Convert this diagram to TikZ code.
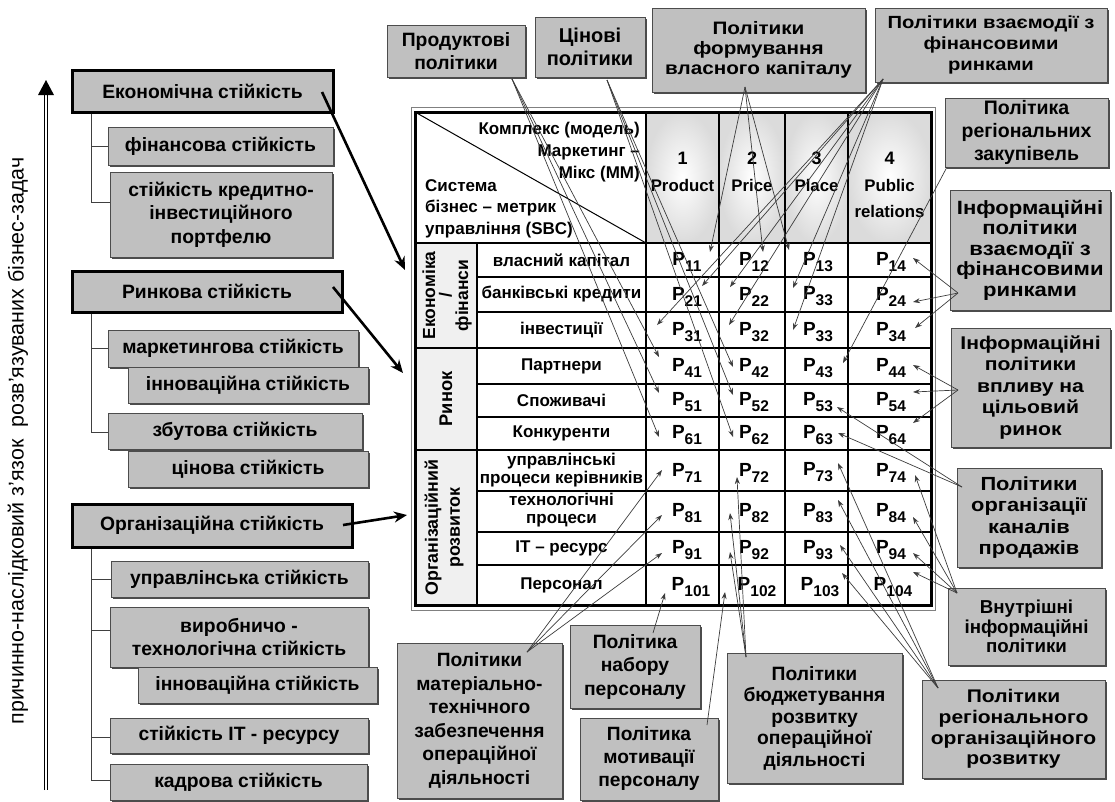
\documentclass[tikz,border=0pt]{standalone}
\usepackage{fontspec}
\setmainfont{Liberation Sans}
\newfontfamily\wfont{Liberation Sans}[FakeStretch=1.15]
\usetikzlibrary{shadows,arrows.meta}
\definecolor{boxgray}{RGB}{192,192,192}
\definecolor{lgray}{RGB}{60,60,60}
\newcommand\Pc[1]{{\fontsize{19}{19}\selectfont P}\raisebox{-6pt}{\fontsize{15.5}{15.5}\selectfont #1}}
\begin{document}
\begin{tikzpicture}[x=1pt,y=-1pt,
 fs/.style 2 args={font=\fontsize{#1}{#2}\selectfont\bfseries},
 ws/.style 2 args={font=\wfont\fontsize{#1}{#2}\selectfont\bfseries},
 gb/.style={draw=gray!60!black, line width=0.7pt, fill=boxgray, align=center, inner sep=0pt,
   drop shadow={shadow xshift=2.2pt, shadow yshift=-2.2pt, fill=gray!45!black, opacity=0.9},
   fs={19.3}{21.5}},
 lb/.style={gb, fs={19.3}{23.5}},
 tb/.style={lb, draw=black, line width=3pt},
 tt/.style={fs={17}{18}, align=center, inner sep=0pt},
 pc/.style={inner sep=0pt, font=\bfseries},
 pa/.style={draw=lgray, line width=0.7pt, -{Stealth[length=7pt,width=5pt]}},
 ta/.style={draw=black, line width=2.6pt, -{Stealth[length=13pt,width=11pt]}},
 tree/.style={draw=gray!50!black, line width=0.8pt}
]
\useasboundingbox (0,0) rectangle (1115,801);

% vertical arrow and text
\coordinate (va0) at (46,790);
\coordinate (va1) at (46,93);
\draw[double=white, double distance=2pt, line width=1.2pt] (va0) -- (va1);
\fill (38,95) -- (46,80) -- (54,95) -- cycle;
\node[rotate=90, font=\fontsize{21.4}{21.4}\selectfont, inner sep=0pt] (vt) at (18,441)
  {причинно-наслідковий з’язок\ \ розв’язуваних бізнес-задач};

% tree lines
\coordinate (e1) at (91,146); \coordinate (e2) at (91,202);
\coordinate (r1) at (91,348); \coordinate (r2) at (91,432);
\coordinate (o1) at (91,579); \coordinate (o2) at (91,630);
\coordinate (o3) at (91,737); \coordinate (o4) at (91,780);

% left boxes
\node[tb, minimum width=261pt, minimum height=42pt] (eco) at (202.5,91) {Економічна стійкість};
\node[lb, minimum width=225pt, minimum height=38pt] (fin) at (220.5,146) {фінансова стійкість};
\node[lb, minimum width=222pt, minimum height=85pt] (cred) at (221,214.5) {стійкість кредитно-\\інвестиційного\\портфелю};
\node[tb, minimum width=270pt, minimum height=41pt] (ryn) at (207,291.5) {Ринкова стійкість};
\node[lb, minimum width=250pt, minimum height=37pt] (mark) at (233,348.5) {маркетингова стійкість};
\node[lb, minimum width=240pt, minimum height=36pt] (inn1) at (248,385) {інноваційна стійкість};
\node[lb, minimum width=254pt, minimum height=36pt] (zbut) at (235,431) {збутова стійкість};
\node[lb, minimum width=240pt, minimum height=36pt] (cin) at (248,469) {цінова стійкість};
\node[tb, minimum width=280pt, minimum height=43pt] (org) at (212,525.5) {Організаційна стійкість};
\node[lb, minimum width=257pt, minimum height=36pt] (upr) at (239.5,579) {управлінська стійкість};
\node[lb, minimum width=258pt, minimum height=60pt] (vyr) at (239,637) {виробничо -\\технологічна стійкість};
\node[lb, minimum width=239pt, minimum height=36pt] (inn2) at (257.5,685) {інноваційна стійкість};
\node[lb, minimum width=258pt, minimum height=35pt] (itr) at (239,735.5) {стійкість IT - ресурсу};
\node[lb, minimum width=257pt, minimum height=36pt] (kad) at (238.5,782) {кадрова стійкість};

\draw[tree] (e1 |- eco.south) -- (e2) -- (e2 -| cred.west);
\draw[tree] (e1) -- (e1 -| fin.west);
\draw[tree] (r1 |- ryn.south) -- (r2) -- (r2 -| zbut.west);
\draw[tree] (r1) -- (r1 -| mark.west);
\draw[tree] (o1 |- org.south) -- (o4) -- (o4 -| kad.west);
\draw[tree] (o1) -- (o1 -| upr.west);
\draw[tree] (o2) -- (o2 -| vyr.west);
\draw[tree] (o3) -- (o3 -| itr.west);

% table
\fill[gray!12] (415,243) rectangle (477,605);
\foreach \a/\b in {646/719,719/785,785/848,848/931}
  \shade[inner color=white, outer color=gray!28] (\a,112) rectangle (\b,243);
\draw[gray, line width=0.8pt] (411,107) rectangle (935,610);
\foreach \yy in {277,312,384,417,491,532,565} \draw[line width=1.3pt] (477,\yy) -- (931,\yy);
\foreach \yy in {348,450} \draw[line width=2.2pt] (415,\yy) -- (931,\yy);
\draw[line width=1.6pt] (415,243) -- (931,243);
\draw[line width=1.3pt] (477,243) -- (477,605);
\foreach \xx in {646,719,785,848} \draw[line width=1.3pt] (\xx,112) -- (\xx,605);
\draw[line width=1pt] (415,112) -- (646,243);
\draw[line width=3pt] (415,112) rectangle (931,605);

\node[tt, align=right, anchor=north east, fs={17}{22}] (hr) at (640,122)
  {Комплекс (модель)\\Маркетинг –\\Мікс (ММ)};
\node[tt, align=left, anchor=south west, fs={17}{21.5}] (hl) at (425,238)
  {Система\\бізнес – метрик\\управління (SBC)};

\foreach \n/\cx/\num/\lab in {h1/682.5/1/Product, h2/752/2/Price, h3/816.5/3/Place, h4/889.5/4/{Public\\relations}}
  \node[tt, anchor=north, fs={16.8}{26.5}] (\n) at (\cx,152)
   {{\fontsize{18}{26.5}\selectfont \num}\\\lab};

\node[tt, rotate=90, fs={17.5}{16.5}] (g1) at (447,295.5) {Економіка\\/\\фінанси};
\node[tt, rotate=90, fs={18.3}{17}] (g2) at (446,399) {Ринок};
\node[tt, rotate=90, fs={17.8}{22}] (g3) at (444,527.5) {Організаційний\\розвиток};

\foreach \n/\cy/\lab in {l1/260/власний капітал, l2/294.5/банківські кредити, l3/330/інвестиції,
  l4/366/Партнери, l5/400.5/Споживачі, l6/433.5/Конкуренти,
  l9/548.5/IT – ресурс, l10/585/Персонал}
  \node[tt] (\n) at (561.5,\cy) {\lab};
\node[tt, fs={17}{18.5}] (l7) at (561.5,470) {управлінські\\процеси керівників};
\node[tt, fs={17}{18.5}] (l8) at (561.5,510) {технологічні\\процеси};

\foreach \n/\cx/\cy/\t in {
  p11/687/262/11, p12/754/262/12, p13/818/262/13, p14/891/262/14,
  p21/687/296.5/21, p22/754/296.5/22, p23/818/296.5/33, p24/891/296.5/24,
  p31/687/332/31, p32/754/332/32, p33/818/332/33, p34/891/332/34,
  p41/687/368/41, p42/754/368/42, p43/818/368/43, p44/891/368/44,
  p51/687/402.5/51, p52/754/402.5/52, p53/818/402.5/53, p54/891/402.5/54,
  p61/687/435.5/61, p62/754/435.5/62, p63/818/435.5/63, p64/891/435.5/64,
  p71/687/472.5/71, p72/754/472.5/72, p73/818/472.5/73, p74/891/472.5/74,
  p81/687/513.5/81, p82/754/513.5/82, p83/818/513.5/83, p84/891/513.5/84,
  p91/687/550.5/91, p92/754/550.5/92, p93/818/550.5/93, p94/891/550.5/94,
  p101/691/587/101, p102/757/587/102, p103/820/587/103, p104/893/587/104}
  \node[pc] (\n) at (\cx,\cy) {\Pc{\t}};

% policy boxes
\node[gb, fs={19.3}{23}, minimum width=138pt, minimum height=52pt] (pA) at (456,51) {Продуктові\\політики};
\node[gb, fs={20}{23}, minimum width=110pt, minimum height=60pt] (pB) at (590,47) {Цінові\\політики};
\node[gb, ws={18}{20}, minimum width=213pt, minimum height=84pt] (pC) at (758.5,50) {Політики\\формування\\власного капіталу};
\node[gb, ws={17.6}{21}, minimum width=232pt, minimum height=74pt] (pD) at (991,45) {Політики взаємодії з\\фінансовими\\ринками};
\node[gb, fs={19.5}{23}, minimum width=163pt, minimum height=69pt] (pE) at (1026.5,132.5) {Політика\\регіональних\\закупівель};
\node[gb, ws={19.2}{20.5}, minimum width=160pt, minimum height=120pt] (pF) at (1030,250) {Інформаційні\\політики\\взаємодії з\\фінансовими\\ринками};
\node[gb, ws={18.4}{21.5}, minimum width=159pt, minimum height=119pt] (pG) at (1030.5,387.5) {Інформаційні\\політики\\впливу на\\цільовий\\ринок};
\node[gb, ws={19}{21.5}, minimum width=144pt, minimum height=99pt] (pH) at (1029,517.5) {Політики\\організації\\каналів\\продажів};
\node[gb, fs={18.7}{19.5}, minimum width=157pt, minimum height=77pt] (pI) at (1026.5,626.5) {Внутрішні\\інформаційні\\політики};
\node[gb, ws={18.3}{20.7}, minimum width=183pt, minimum height=98pt] (pJ) at (1013.5,729) {Політики\\регіонального\\організаційного\\розвитку};
\node[gb, fs={19.3}{21.5}, minimum width=175pt, minimum height=130pt] (pK) at (814.5,718) {Політики\\бюджетування\\розвитку\\операційної\\діяльності};
\node[gb, fs={19.3}{23.5}, minimum width=130pt, minimum height=83pt] (pM) at (635,666.5) {Політика\\набору\\персоналу};
\node[gb, fs={19.2}{23}, minimum width=138pt, minimum height=82pt] (pL) at (649,759) {Політика\\мотивації\\персоналу};
\node[gb, fs={19.2}{23.5}, minimum width=165pt, minimum height=155pt] (pN) at (479.5,720.5)
  {Політики\\матеріально-\\технічного\\забезпечення\\операційної\\діяльності};

% source points
\coordinate (sA) at (512,79);
\coordinate (sB) at (607,80);
\coordinate (sC) at (745,87);
\coordinate (sD) at (883,79);
\coordinate (sE) at (947,167);
\coordinate (sF) at (958,293);
\coordinate (sG) at (958,390);
\coordinate (sH) at (962,487);
\coordinate (sI) at (957,593);
\coordinate (sJ) at (938,688);
\coordinate (sK) at (746,657);
\coordinate (sL) at (707,725);
\coordinate (sM) at (653,633);
\coordinate (sN) at (527,652);

% target points
\coordinate (t11) at (710,252); \coordinate (t12) at (763,252); \coordinate (t13) at (789,250);
\coordinate (t21) at (702,286); \coordinate (t22) at (730,287); \coordinate (t23) at (793,288);
\coordinate (t31) at (657,325); \coordinate (t32) at (729,325); \coordinate (t33) at (793,330);
\coordinate (t14) at (913,258); \coordinate (t24) at (913,302); \coordinate (t34) at (915,328);
\coordinate (t41) at (659,357); \coordinate (t51) at (659,393); \coordinate (t61) at (659,437);
\coordinate (t42) at (733,367); \coordinate (t52) at (733,395); \coordinate (t62) at (733,437);
\coordinate (t43) at (843,363);
\coordinate (t44) at (913,365); \coordinate (t54) at (913,392); \coordinate (t64) at (913,423);
\coordinate (t53) at (837,407); \coordinate (t63) at (838,433);
\coordinate (t74) at (915,475); \coordinate (t84) at (913,517); \coordinate (t94) at (913,553); \coordinate (t104) at (913,572);
\coordinate (t73) at (838,463); \coordinate (t83) at (838,500); \coordinate (t93) at (840,545); \coordinate (t103) at (842,573);
\coordinate (t72) at (737,477); \coordinate (t82) at (730,513); \coordinate (t92) at (730,552);
\coordinate (t102) at (725,592);
\coordinate (t101) at (665,593);
\coordinate (t71) at (662,470); \coordinate (t81) at (662,515); \coordinate (t91) at (662,553);

\foreach \s/\t in {sA/t41, sA/t51, sA/t61, sB/t42, sB/t52, sB/t62,
  sC/t11, sC/t12, sC/t13, sD/t21, sD/t22, sD/t23, sD/t31, sD/t32, sD/t33,
  sE/t43, sF/t14, sF/t24, sF/t34, sG/t44, sG/t54, sG/t64, sH/t53, sH/t63,
  sI/t74, sI/t84, sI/t94, sI/t104, sJ/t73, sJ/t83, sJ/t93, sJ/t103,
  sK/t72, sK/t82, sK/t92, sL/t102, sM/t101, sN/t71, sN/t81, sN/t91}
  \draw[pa] (\s) -- (\t);

% thick arrows
\coordinate (se) at (322,92); \coordinate (te) at (405,270);
\coordinate (sr) at (333,287); \coordinate (tr) at (403,373);
\coordinate (so) at (343,525); \coordinate (to) at (407,515);
\draw[ta] (se) -- (te);
\draw[ta] (sr) -- (tr);
\draw[ta] (so) -- (to);
\end{tikzpicture}
\end{document}
